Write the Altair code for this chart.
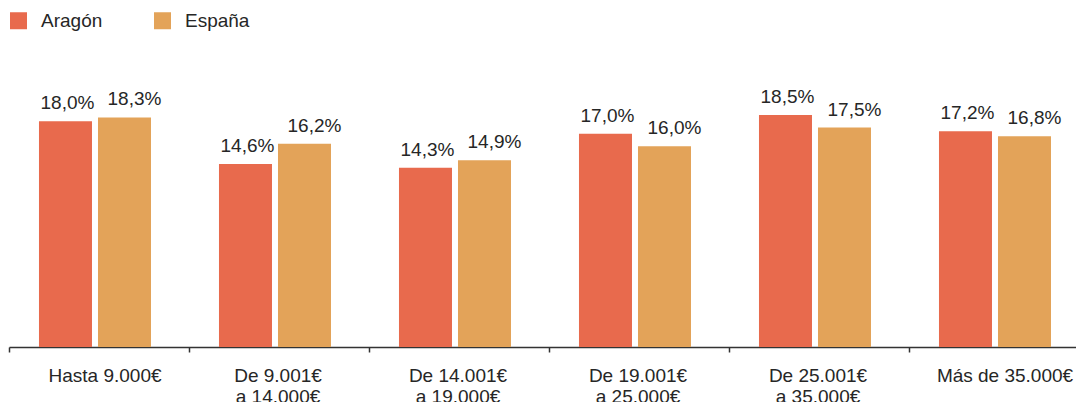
import altair as alt
import pandas as pd

# ---- data ----
categories = [
    "Hasta 9.000€",
    "De 9.001€\na 14.000€",
    "De 14.001€\na 19.000€",
    "De 19.001€\na 25.000€",
    "De 25.001€\na 35.000€",
    "Más de 35.000€",
]
series = ["Aragón", "España"]
aragon = [18.0, 14.6, 14.3, 17.0, 18.5, 17.2]
espana = [18.3, 16.2, 14.9, 16.0, 17.5, 16.8]
colors = ["#E86A4D", "#E3A359"]

rows = []
for c, a, e in zip(categories, aragon, espana):
    for s, v in zip(series, (a, e)):
        rows.append({
            "tramo": c,
            "serie": s,
            "valor": v,
            "etiqueta": f"{v:.1f}".replace(".", ",") + "%",
        })
df = pd.DataFrame(rows)

FONT = "Liberation Sans"
TEXT = "#262626"
AXIS = "#333333"

x_enc = alt.X(
    "tramo:N",
    sort=categories,
    title=None,
    scale=alt.Scale(range=[0, 1080], paddingInner=0, paddingOuter=0),
    axis=alt.Axis(
        bandPosition=0,
        labelOffset={
            "condition": {"test": "indexof(datum.value, '\\n') < 0", "value": 6},
            "value": -1,
        },
        labelAngle=0,
        labelExpr="split(datum.label, '\\n')",
        labelFont=FONT,
        labelFontSize=19,
        labelColor=TEXT,
        labelLineHeight=21,
        labelPadding=14,
        labelOverlap=False,
        labelBound=False,
        labelFlush=False,
        tickSize=5,
        tickWidth=1.5,
        tickColor=AXIS,
        domainColor=AXIS,
        domainWidth=1.5,
        grid=False,
    ),
)
xoff_enc = alt.XOffset(
    "serie:N",
    sort=series,
    scale=alt.Scale(domain=series, paddingInner=0.1017, paddingOuter=0.576,
                    align=0.441),
)
y_enc = alt.Y("valor:Q", scale=alt.Scale(domain=[0, 24]), axis=None)

bars = alt.Chart().mark_bar().encode(
    x=x_enc,
    xOffset=xoff_enc,
    y=y_enc,
    color=alt.Color(
        "serie:N",
        sort=series,
        scale=alt.Scale(domain=series, range=colors),
        legend=alt.Legend(
            orient="none",
            legendX=0,
            legendY=-35,
            direction="horizontal",
            title=None,
            symbolType="square",
            symbolSize=289,
            symbolStrokeWidth=0,
            symbolOpacity=1,
            labelFont=FONT,
            labelFontSize=19,
            labelColor=TEXT,
            labelOffset=13,
            columnPadding=50,
            padding=0,
        ),
    ),
)


def labels(serie, dx):
    return (
        alt.Chart()
        .transform_filter(alt.datum.serie == serie)
        .mark_text(dx=dx, dy=-12, baseline="alphabetic", align="center",
                   font=FONT, fontSize=19, color=TEXT)
        .encode(x=x_enc, xOffset=xoff_enc, y=y_enc, text="etiqueta:N")
    )


chart = (
    alt.layer(bars, labels("Aragón", 2), labels("España", 10), data=df)
    .properties(
        width=1067,
        height=301,
        autosize=alt.AutoSizeParams(type="none"),
        padding={"left": 1, "top": 38, "right": 0, "bottom": 55},
        background="white",
    )
    .configure_view(stroke=None)
)

chart.save("out.html", embed_options={"renderer": "svg", "actions": False})
